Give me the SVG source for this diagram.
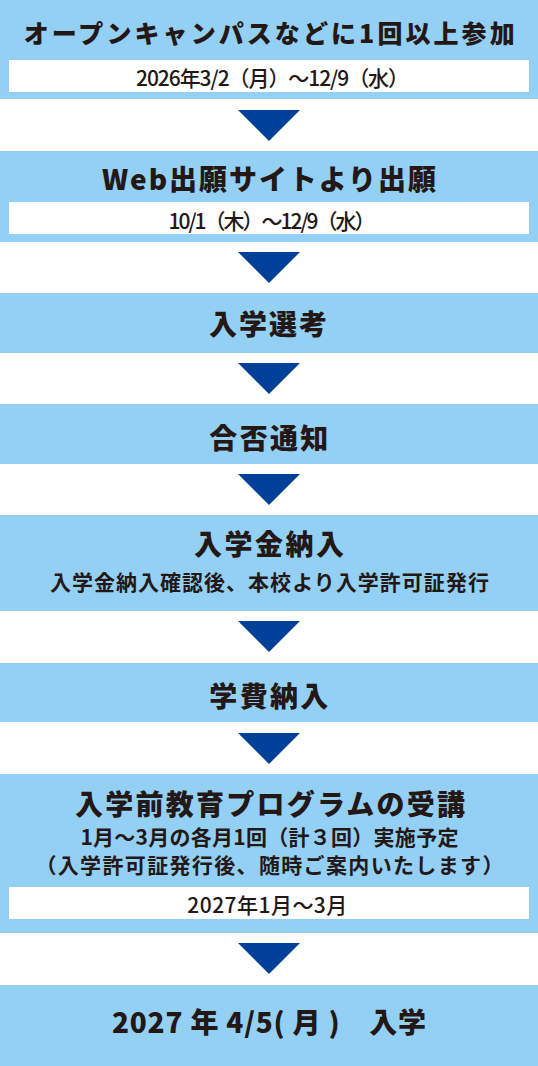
<svg xmlns="http://www.w3.org/2000/svg" width="538" height="1066" viewBox="0 0 538 1066">
<style>
.box{fill:#93d0f4}
.win{fill:#ffffff}
.arr{fill:#004098}
text{font-family:"Noto Sans CJK JP","Noto Sans",sans-serif;fill:#231815;dominant-baseline:central}
.t{font-size:28px;font-weight:900;text-anchor:middle}
.s{font-size:21px;font-weight:700;text-anchor:middle}
.d{font-size:21px;font-weight:500}
.dm{font-size:21px;font-weight:500;text-anchor:middle}
</style>
<rect width="538" height="1066" fill="#ffffff"/>
<g id="connectors">
<polygon class="arr" points="238,110 300,110 269,141"/>
<polygon class="arr" points="238,252 300,252 269,283"/>
<polygon class="arr" points="238,363 300,363 269,394"/>
<polygon class="arr" points="238,474 300,474 269,505"/>
<polygon class="arr" points="238,621 300,621 269,652"/>
<polygon class="arr" points="238,733 300,733 269,764"/>
<polygon class="arr" points="238,943 300,943 269,974"/>
</g>
<g id="node1">
<rect class="box" x="0" y="0" width="538" height="99"/>
<text class="t" x="269.2" y="31.5" style="font-size:25px" textLength="491" lengthAdjust="spacing">オープンキャンパスなどに1回以上参加</text>
<rect class="win" x="9" y="60" width="520" height="32"/>
<text class="d" x="136" y="76.5" textLength="273" lengthAdjust="spacing">2026年3/2（月）～12/9（水）</text>
</g>
<g id="node2">
<rect class="box" x="0" y="151" width="538" height="91"/>
<text class="t" x="269" y="178" textLength="334" lengthAdjust="spacing">Web出願サイトより出願</text>
<rect class="win" x="9" y="202" width="520" height="32"/>
<text class="d" x="168.5" y="219.5" textLength="207" lengthAdjust="spacing">10/1（木）～12/9（水）</text>
</g>
<g id="node3">
<rect class="box" x="0" y="293" width="538" height="60"/>
<text class="t" x="268" y="322.5" textLength="118" lengthAdjust="spacing">入学選考</text>
</g>
<g id="node4">
<rect class="box" x="0" y="404" width="538" height="60"/>
<text class="t" x="268.8" y="437" textLength="119" lengthAdjust="spacing">合否通知</text>
</g>
<g id="node5">
<rect class="box" x="0" y="515" width="538" height="96"/>
<text class="t" x="269" y="543.3" textLength="150" lengthAdjust="spacing">入学金納入</text>
<text class="s" x="269.4" y="580.7" textLength="439" lengthAdjust="spacing">入学金納入確認後、本校より入学許可証発行</text>
</g>
<g id="node6">
<rect class="box" x="0" y="663" width="538" height="59"/>
<text class="t" x="268.8" y="695" textLength="119" lengthAdjust="spacing">学費納入</text>
</g>
<g id="node7">
<rect class="box" x="0" y="774" width="538" height="159"/>
<text class="t" x="270" y="803" textLength="390" lengthAdjust="spacing">入学前教育プログラムの受講</text>
<text class="s" x="269.4" y="836" textLength="378" lengthAdjust="spacing">1月～3月の各月1回（計３回）実施予定</text>
<text class="s" x="269.4" y="864" textLength="468" lengthAdjust="spacing">（入学許可証発行後、随時ご案内いたします）</text>
<rect class="win" x="9" y="887" width="520" height="32"/>
<text class="dm" x="267.3" y="904" textLength="160" lengthAdjust="spacing">2027年1月～3月</text>
</g>
<g id="node8">
<rect class="box" x="0" y="985" width="538" height="81"/>
<text class="t" x="269" y="1021" textLength="314" lengthAdjust="spacing">2027 年 4/5( 月 )　入学</text>
</g>
</svg>
